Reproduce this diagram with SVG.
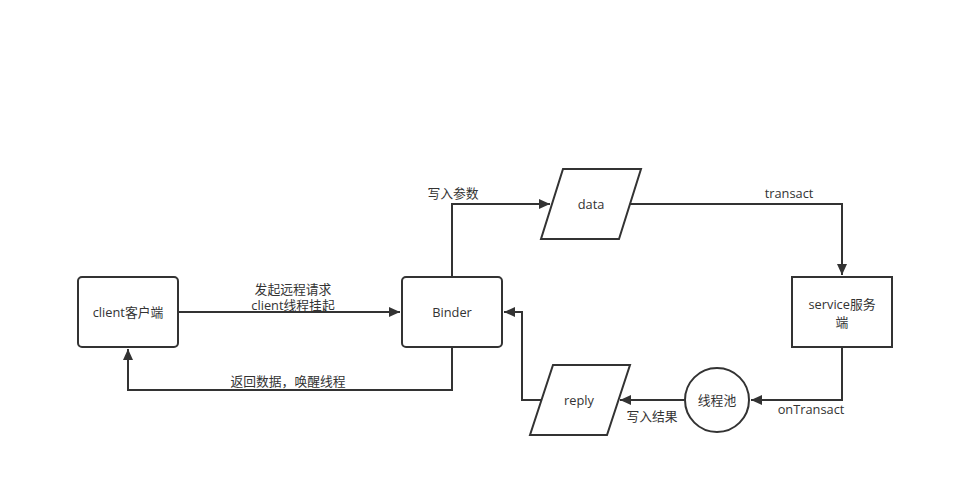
<svg xmlns="http://www.w3.org/2000/svg" width="954" height="497" viewBox="0 0 954 497">
<defs>
<marker id="arr" markerWidth="12" markerHeight="10" refX="11" refY="5" orient="auto" markerUnits="userSpaceOnUse">
<path d="M0,0 L11,5 L0,10 Z" fill="#333"/>
</marker>
<style>
.shape{fill:#fff;stroke:#333;stroke-width:2}
.edge{fill:none;stroke:#333;stroke-width:2;marker-end:url(#arr)}
text{font-family:"Open Sans","Noto Sans CJK SC",sans-serif;font-size:12.8px;fill:#333;text-anchor:middle;dominant-baseline:central}
</style>
</defs>
<rect width="954" height="497" fill="#fff"/>
<g id="connectors">
<path class="edge" d="M178,312 L400,312"/>
<path class="edge" d="M452,347 L452,390 L128,390 L128,349"/>
<path class="edge" d="M452,277 L452,204 L550,204"/>
<path class="edge" d="M630,204 L842,204 L842,275"/>
<path class="edge" d="M842,347 L842,400 L751,400"/>
<path class="edge" d="M684,400 L620,400"/>
<path class="edge" d="M541,400 L522,400 L522,312 L504,312"/>
<text x="293" y="288.5">发起远程请求</text>
<text x="293" y="305">client线程挂起</text>
<text x="288" y="381">返回数据，唤醒线程</text>
<text x="453" y="193">写入参数</text>
<text x="789" y="193">transact</text>
<text x="811" y="409">onTransact</text>
<text x="652" y="416">写入结果</text>
</g>
<g id="client">
<rect class="shape" x="78" y="277" width="100" height="70" rx="4"/>
<text x="128" y="312">client客户端</text>
</g>
<g id="binder">
<rect class="shape" x="402" y="277" width="100" height="70" rx="4"/>
<text x="452" y="312">Binder</text>
</g>
<g id="data">
<path class="shape" d="M563,169 L641,169 L619,239 L541,239 Z"/>
<text x="591" y="204">data</text>
</g>
<g id="service">
<rect class="shape" x="792" y="277" width="100" height="70"/>
<text x="842" y="304">service服务</text>
<text x="842" y="321.5">端</text>
</g>
<g id="threadpool">
<circle class="shape" cx="717" cy="400" r="32"/>
<text x="717" y="400">线程池</text>
</g>
<g id="reply">
<path class="shape" d="M553,365 L630,365 L607,435 L530,435 Z"/>
<text x="579" y="400">reply</text>
</g>
</svg>
